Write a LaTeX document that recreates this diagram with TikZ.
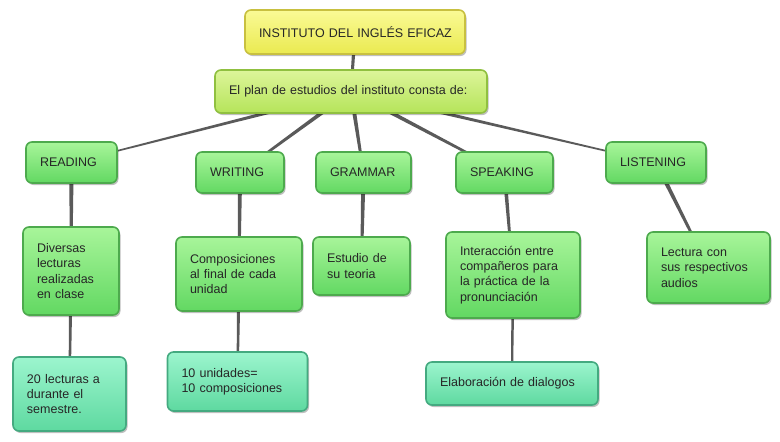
\documentclass[tikz,border=0pt]{standalone}
\usepackage{fontspec}
\setmainfont{Liberation Sans}
\usetikzlibrary{calc,shadows,backgrounds}
\definecolor{grT}{HTML}{A8F59A}
\definecolor{grM}{HTML}{62D862}
\definecolor{grD}{HTML}{4DAA4D}
\definecolor{aqT}{HTML}{9CF5CE}
\definecolor{aqM}{HTML}{5ED9A0}
\definecolor{aqD}{HTML}{44AA80}
\definecolor{plT}{HTML}{DDF59A}
\definecolor{plM}{HTML}{B5E45A}
\definecolor{plD}{HTML}{90C040}
\definecolor{ttT}{HTML}{FAFA96}
\definecolor{ttM}{HTML}{EAEA50}
\definecolor{ttD}{HTML}{C8C040}
\definecolor{conn}{HTML}{5A5A5A}
\newcommand{\taper}[4]{%
  \fill[conn] ($(#1.center)!#3!90:(#2.center)$) -- ($(#2.center)!#4!-90:(#1.center)$)
    -- ($(#2.center)!#4!90:(#1.center)$) -- ($(#1.center)!#3!-90:(#2.center)$) -- cycle;}
\begin{document}
\begin{tikzpicture}[x=1pt,y=1pt,
  base/.style={rounded corners=6pt, line width=1.6pt, align=left, inner xsep=14pt, inner ysep=0pt,
    font=\fontsize{12.5}{15.3}\selectfont, text=black!85,
    drop shadow={shadow xshift=1.5pt, shadow yshift=-2pt, opacity=0.25, fill=black}},
  greenbox/.style={base, draw=grD, top color=grT, bottom color=grM},
  aquabox/.style={base, draw=aqD, top color=aqT, bottom color=aqM},
  planbox/.style={base, draw=plD, top color=plT, bottom color=plM},
  titlebox/.style={base, draw=ttD, top color=ttT, bottom color=ttM}]
\useasboundingbox (0,0) rectangle (780,-442);
% top
\node[titlebox, minimum width=220, minimum height=44, text width=192, inner xsep=14pt] (title) at (355,-32) {\mbox{INSTITUTO DEL INGLÉS EFICAZ}};
\node[planbox, minimum width=272, minimum height=43, text width=244] (plan) at (351,-91.5) {El plan de estudios del instituto consta de:};
% categories
\node[greenbox, minimum width=91, minimum height=41, text width=63] (read) at (71.5,-162.5) {READING};
\node[greenbox, minimum width=88, minimum height=41, text width=60] (writ) at (240,-172.5) {WRITING};
\node[greenbox, minimum width=95, minimum height=41, text width=67] (gram) at (363.5,-172.5) {GRAMMAR};
\node[greenbox, minimum width=97, minimum height=41, text width=69] (speak) at (504.5,-172.5) {SPEAKING};
\node[greenbox, minimum width=100, minimum height=41, text width=72] (list) at (656,-162.5) {LISTENING};
% details
\node[greenbox, minimum width=96, minimum height=88, text width=68] (div) at (71,-271) {Diversas\\lecturas\\realizadas\\en clase};
\node[greenbox, minimum width=126, minimum height=74, text width=98] (comp) at (239,-274) {Composiciones\\al final de cada\\unidad};
\node[greenbox, minimum width=97, minimum height=58, text width=69] (est) at (361.5,-266) {Estudio de\\su teoria};
\node[greenbox, minimum width=134, minimum height=86, text width=106] (inter) at (513,-275) {Interacción entre\\compañeros para\\la práctica de la\\pronunciación};
\node[greenbox, minimum width=123, minimum height=71, text width=95] (lect) at (708.5,-267.5) {Lectura con\\sus respectivos\\audios};
% leaves
\node[aquabox, minimum width=113, minimum height=74, text width=85] (veinte) at (69.5,-394) {20 lecturas a\\durante el\\semestre.};
\node[aquabox, minimum width=140, minimum height=59, text width=112] (diez) at (237.5,-381.5) {10 unidades=\\10 composiciones};
\node[aquabox, minimum width=172, minimum height=43, text width=144] (elab) at (512,-383.5) {Elaboración de dialogos};
% connectors
\begin{scope}[on background layer]
\fill[white] (0,0) rectangle (780,-442);
\taper{title}{plan}{1.8pt}{1.3pt}
\taper{plan}{read}{2pt}{0.6pt}
\taper{plan}{writ}{2.2pt}{1pt}
\taper{plan}{gram}{2.2pt}{1.2pt}
\taper{plan}{speak}{2.2pt}{1pt}
\taper{plan}{list}{2pt}{0.6pt}
\taper{read}{div}{2.2pt}{1.2pt}
\taper{writ}{comp}{2.2pt}{1.2pt}
\taper{gram}{est}{2.2pt}{1.2pt}
\taper{speak}{inter}{2pt}{1pt}
\taper{list}{lect}{2.2pt}{1pt}
\taper{div}{veinte}{1.8pt}{1pt}
\taper{comp}{diez}{1.8pt}{1pt}
\taper{inter}{elab}{1.6pt}{0.9pt}
\end{scope}
\end{tikzpicture}
\end{document}
